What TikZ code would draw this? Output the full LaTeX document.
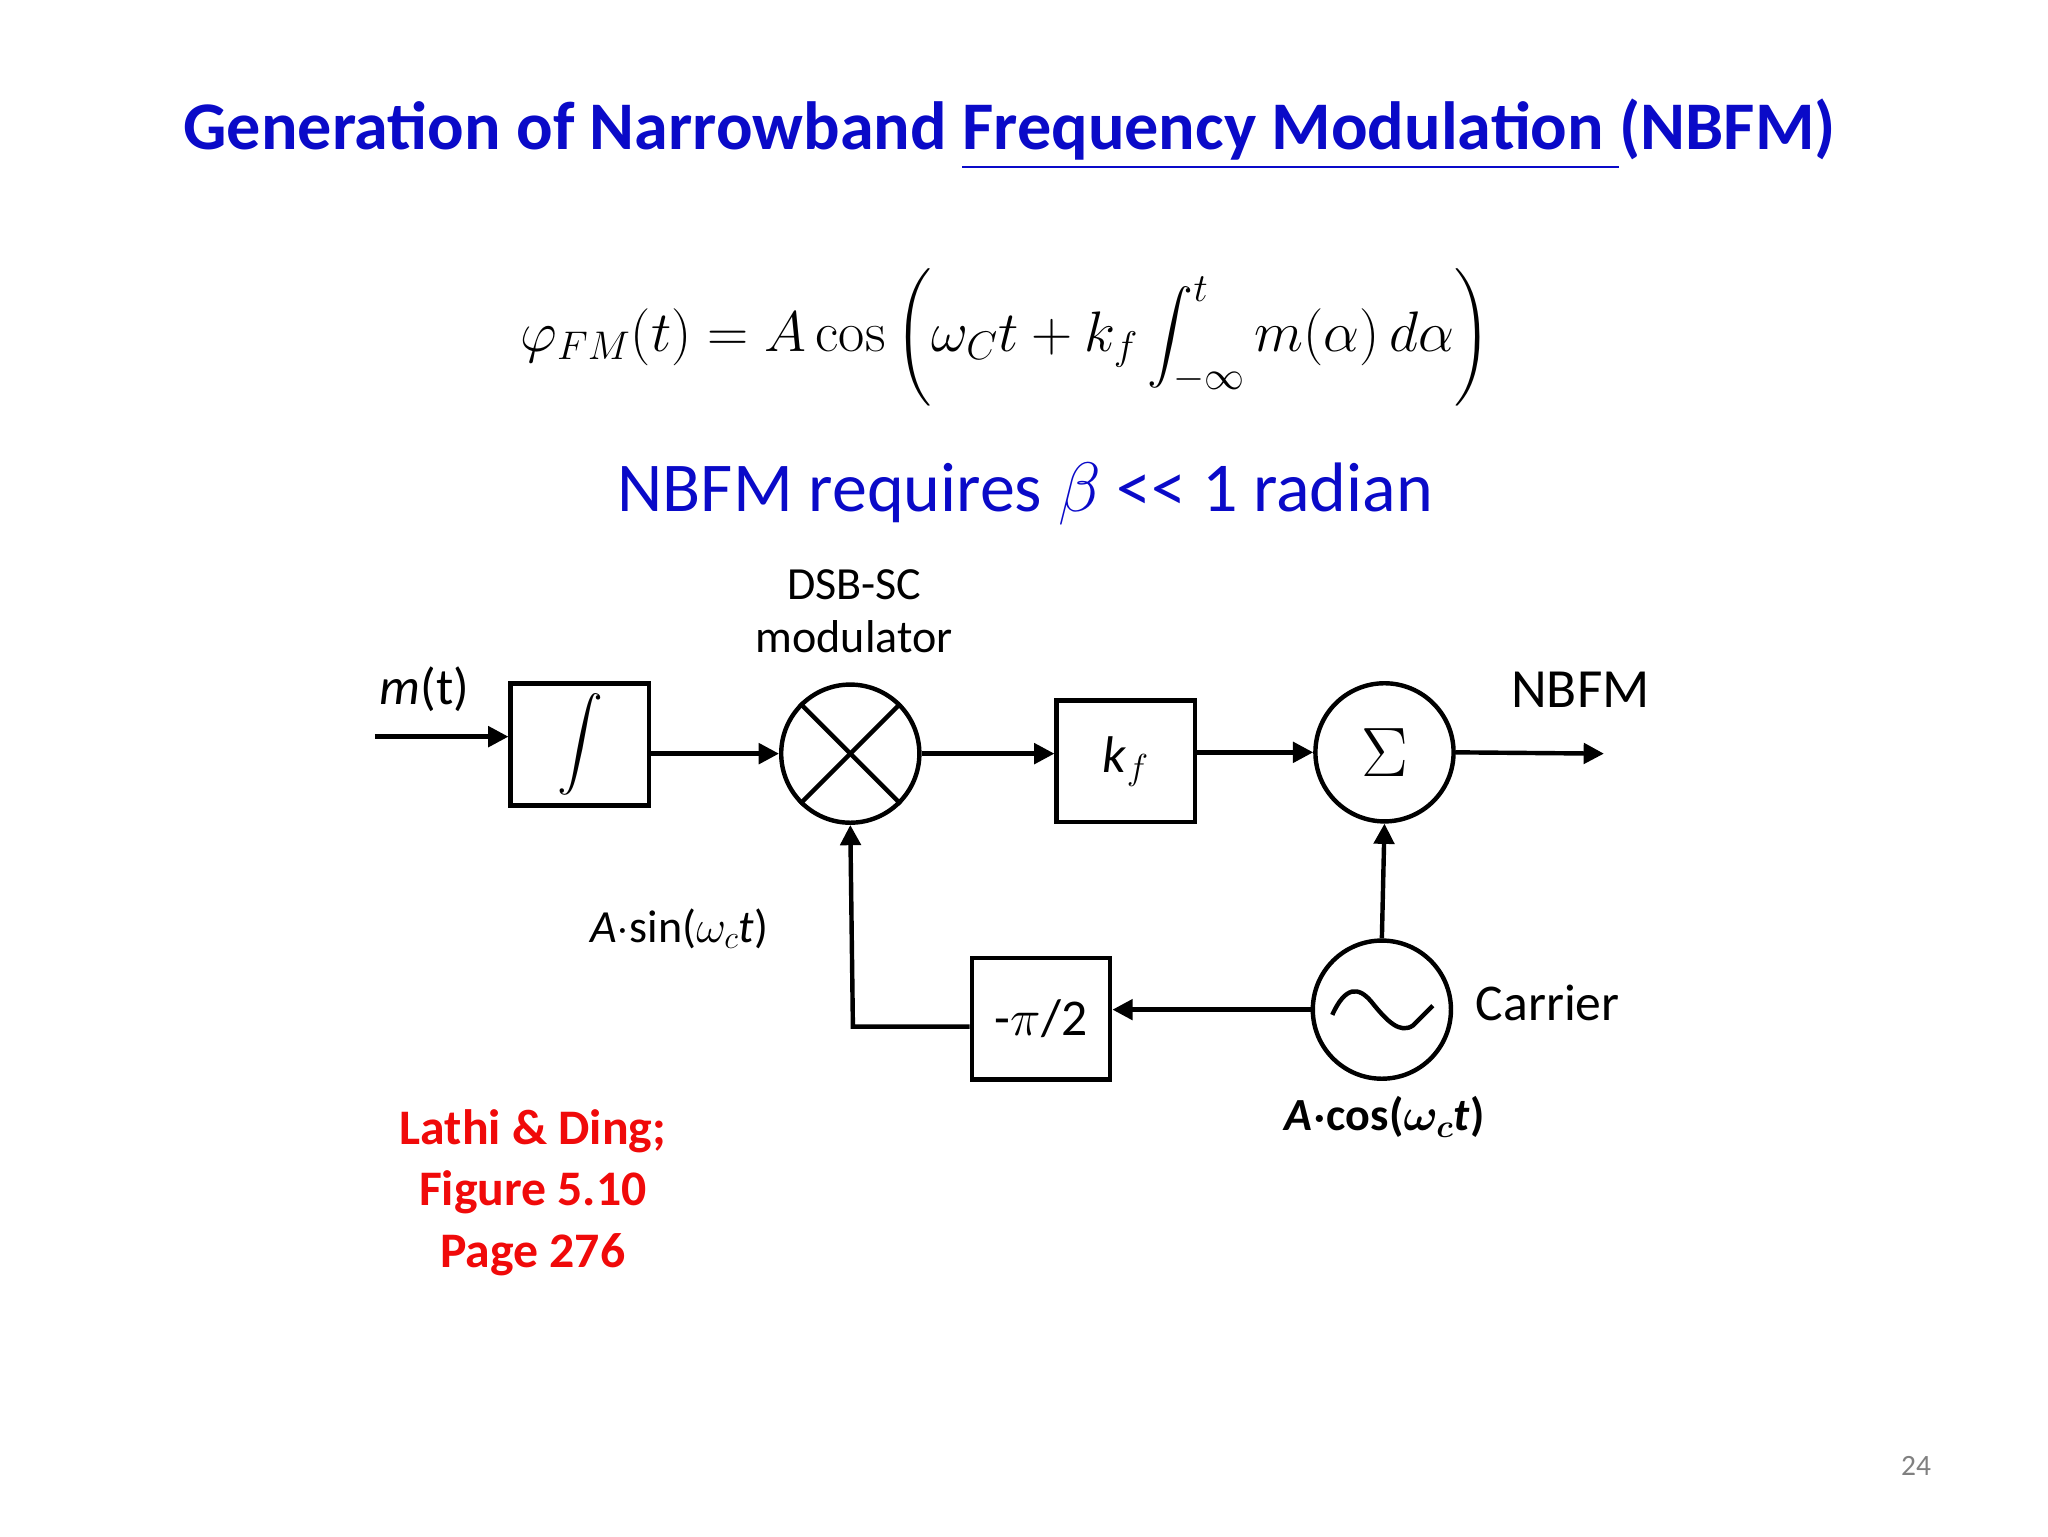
\documentclass[tikz,border=0pt]{standalone}
\usepackage{fix-cm}
\usepackage{amsmath}
\usepackage[no-math]{fontspec}
\setmainfont{Carlito}
\usetikzlibrary{arrows.meta}
\definecolor{titleblue}{RGB}{10,10,200}
\definecolor{refred}{RGB}{240,10,10}
\tikzset{every picture/.style={line width=2.4pt}}
\tikzset{
  blk/.style={draw,minimum width=75.2pt,minimum height=66pt,inner sep=0pt},
  rnd/.style={draw,circle,minimum size=75pt,inner sep=0pt},
  sig/.style={-{Triangle[length=11pt,width=11pt]}},
  lbl/.style={inner sep=0.75pt,font=\fontsize{25}{29}\selectfont}
}

\begin{document}
\begin{tikzpicture}[x=0.709pt,y=0.709pt,yscale=-1,xscale=1]
\useasboundingbox (0,0) rectangle (1568,1176);

% Title
\node[inner sep=0.75pt,text=titleblue,font=\fontsize{37}{44}\selectfont\bfseries] (title) at (773,103)
  {Generation of Narrowband \underline{Frequency Modulation }(NBFM)};
% Equation
\node[inner sep=0.75pt,font=\fontsize{31}{36}\selectfont] (eqn) at (770,258)
  {$\displaystyle \varphi_{FM}(t)=A\cos\left(\omega_C t+k_f\int_{-\infty}^{t} m(\alpha)\,d\alpha\right)$};
\node[inner sep=0.75pt,text=titleblue,font=\fontsize{38}{44}\selectfont] (cond) at (785,378)
  {NBFM requires $\beta$ <{}< 1 radian};

% Blocks
\node[blk] (integ) at (444,570) {\fontsize{26}{26}\selectfont$\displaystyle\int$};
\node[rnd] (mix) at (651,577) {};
\draw (mix.north east) -- (mix.south west);
\draw (mix.north west) -- (mix.south east);
\node[blk] (gain) at (862,583) {\fontsize{28}{30}\selectfont\textit{k}$_f$};
\node[rnd] (sum) at (1060,576) {\fontsize{38}{38}\selectfont$\Sigma$};
\node[rnd] (osc) at (1058,773) {};
\draw (1020,777) .. controls (1030,755) and (1040,755) .. (1050,767) .. controls (1062,782) and (1072,792) .. (1082,785) -- (1097,770);
\node[blk] (shift) at (797,780) {\fontsize{28}{30}\selectfont-$\pi$/2};

% Connectors
\coordinate (in) at (287,564);
\coordinate (out) at (1228,577);
\coordinate (bend) at (653,786);
\draw[sig] (in) -- (in -| integ.west);
\draw[sig] (integ.east |- mix) -- (mix.west);
\draw[sig] (mix.east) -- (gain.west |- mix);
\draw[sig] (gain.east |- sum) -- (sum.west);
\draw[sig] (sum.east) -- (out);
\draw[sig] (osc.north) -- (sum.south);
\draw[sig] (osc.west) -- (shift.east |- osc);
\draw[sig] (shift.west |- bend) -- (bend) -- (mix.south);

% Text Node
\node[lbl] (mt) at (325,528) {\fontsize{28}{30}\selectfont\textit{m}(t)};
\node[lbl,align=center] (dsb) at (654,468) {DSB-SC\\modulator};
\node[lbl] (nbfm) at (1210,528) {\fontsize{30}{32}\selectfont NBFM};
\node[lbl] (asin) at (520,711) {\textit{A}$\cdot$sin($\omega_c$\textit{t})};
\node[lbl,font=\fontsize{28}{30}\selectfont] (carr) at (1185,768) {Carrier};
\node[lbl,font=\fontsize{25}{29}\selectfont\bfseries] (acos) at (1060,855) {\textit{A}$\boldsymbol{\cdot}$cos($\boldsymbol{\omega_c}$\textit{t})};
\node[lbl,align=center,text=refred,font=\fontsize{27}{33.5}\selectfont\bfseries] (ref) at (408,913)
  {Lathi \& Ding;\\Figure 5.10\\Page 276};
\node[lbl,text=gray,font=\fontsize{16}{20}\selectfont] (pg) at (1467,1122) {24};

\end{tikzpicture}
\end{document}
